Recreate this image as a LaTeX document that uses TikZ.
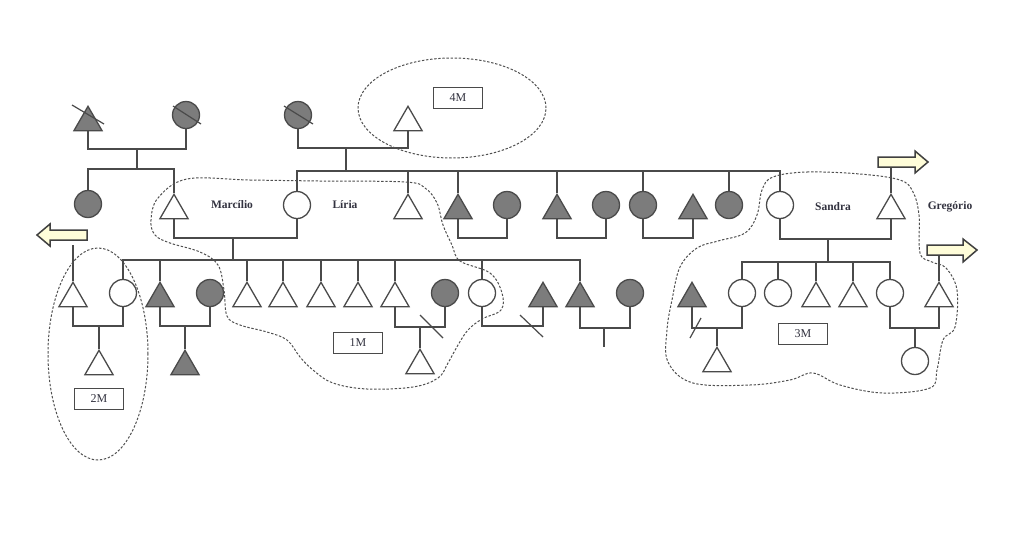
\documentclass[tikz,border=0pt]{standalone}
\usepackage{fontspec}
\setmainfont{Liberation Serif}
\usetikzlibrary{shapes.geometric}
\definecolor{lc}{HTML}{4A4A4A}
\definecolor{af}{HTML}{7C7C7C}
\definecolor{dc}{HTML}{505050}
\definecolor{tc}{HTML}{333340}
\definecolor{ac}{HTML}{404040}
\tikzset{
 lin/.style={draw=lc, line width=1.3pt},
 male/.style={regular polygon, regular polygon sides=3, minimum size=32.5pt, inner sep=0pt, draw=lc, line width=1.3pt, fill=white, anchor=north},
 female/.style={circle, minimum size=27pt, inner sep=0pt, draw=lc, line width=1.3pt, fill=white},
 aff/.style={fill=af},
 grp/.style={draw=dc, dash pattern=on 2.4pt off 1.7pt, line width=1pt},
 boxlab/.style={draw=lc, line width=1.2pt, minimum width=49pt, minimum height=21pt, inner sep=0pt, text=tc, font=\fontsize{12}{13}\selectfont},
 pname/.style={text=tc, inner sep=0pt, font=\bfseries\fontsize{11.5}{13}\selectfont},
 arr/.style={draw=ac, line width=1.5pt, fill=yellow!15, line join=miter},
 gone/.style={draw=lc, line width=1.2pt}
}
\begin{document}
\begin{tikzpicture}[x=1pt,y=-1pt]
\fill[white] (0,0) rectangle (1026,550);
\useasboundingbox (0,0) rectangle (1026,550);

% ---------- Generation I
\node[male,aff] (g1) at (88,105) {};
\node[female,aff] (g2) at (186,115) {};
\node[female,aff] (g3) at (298,115) {};
\node[male] (g4) at (408,105) {};
\draw[gone] (72,105) -- (104,124);
\draw[gone] (173,106) -- (201,124);
\draw[gone] (284,106) -- (313,124);

% ---------- Generation II
\node[female,aff] (b1) at (88,204) {};
\node[male] (marc) at (174,193) {};
\node[female] (liria) at (297,205) {};
\node[male] (b3) at (408,193) {};
\node[male,aff] (b4) at (458,193) {};
\node[female,aff] (b5) at (507,205) {};
\node[male,aff] (b6) at (557,193) {};
\node[female,aff] (b7) at (606,205) {};
\node[female,aff] (b8) at (643,205) {};
\node[male,aff] (b9) at (693,193) {};
\node[female,aff] (b10) at (729,205) {};
\node[female] (sandra) at (780,205) {};
\node[male] (b11) at (891,193) {};

\node[pname] (tM) at (232,205) {Marcílio};
\node[pname] (tL) at (345,205) {Líria};
\node[pname] (tS) at (833,207) {Sandra};
\node[pname] (tG) at (950,207) {Gregório};

% couple g1-g2
\coordinate (m1) at (137,149);
\coordinate (s1) at (137,169);
\draw[lin] (g1.south) |- (m1) -| (g2.south);
\draw[lin] (m1) -- (s1);
\draw[lin] (b1.north) |- (s1) -| (marc.north);
% couple g3-g4
\coordinate (m2) at (346,148);
\coordinate (s2) at (346,171);
\draw[lin] (g3.south) |- (m2) -| (g4.south);
\draw[lin] (m2) -- (s2);
\draw[lin] (liria.north) |- (s2) -| (sandra.north);
\foreach \n in {b3,b4,b6,b8,b10} \draw[lin] (\n.north) -- (\n.north |- s2);

% marriages gen II
\coordinate (m3) at (233,238);
\coordinate (s3) at (233,260);
\draw[lin] (marc.south) |- (m3) -| (liria.south);
\draw[lin] (m3) -- (s3);
\coordinate (m4) at (482,238);
\draw[lin] (b4.south) |- (m4) -| (b5.south);
\coordinate (m5) at (581,238);
\draw[lin] (b6.south) |- (m5) -| (b7.south);
\coordinate (m6) at (668,238);
\draw[lin] (b8.south) |- (m6) -| (b9.south);
\coordinate (m7) at (828,239);
\coordinate (s7) at (828,262);
\draw[lin] (sandra.south) |- (m7) -| (b11.south);
\draw[lin] (m7) -- (s7);

% ---------- arrows
\draw[arr] (878,157) -- (915,157) -- (915,151) -- (928,162) -- (915,173) -- (915,167) -- (878,167) -- cycle;
\coordinate (a1) at (891,168);
\draw[arr] (927,245) -- (963,245) -- (963,239) -- (977,250) -- (963,262) -- (963,255) -- (927,255) -- cycle;
\coordinate (a2) at (939,256);
\draw[arr] (87,230) -- (50,230) -- (50,224) -- (37,235) -- (50,246) -- (50,240) -- (87,240) -- cycle;
\coordinate (a0) at (73,245);
\draw[lin] (b11.north) -- (a1);

% ---------- Generation III (Marcílio & Líria)
\node[male] (c1) at (73,281) {};
\node[female] (c2) at (123,293) {};
\node[male,aff] (c3) at (160,281) {};
\node[female,aff] (c4) at (210,293) {};
\node[male] (c5) at (247,281) {};
\node[male] (c6) at (283,281) {};
\node[male] (c7) at (321,281) {};
\node[male] (c8) at (358,281) {};
\node[male] (c9) at (395,281) {};
\node[female,aff] (c10) at (445,293) {};
\node[female] (c11) at (482,293) {};
\node[male,aff] (c12) at (543,281) {};
\node[male,aff] (c13) at (580,281) {};
\node[female,aff] (c14) at (630,293) {};
\draw[lin] (c2.north) |- (s3) -| (c13.north);
\foreach \n in {c3,c5,c6,c7,c8,c9,c11} \draw[lin] (\n.north) -- (\n.north |- s3);
\draw[lin] (c1.north) -- (a0);

% ---------- Generation III (Sandra)
\node[male,aff] (d0) at (692,281) {};
\node[female] (d1) at (742,293) {};
\node[female] (d2) at (778,293) {};
\node[male] (d3) at (816,281) {};
\node[male] (d4) at (853,281) {};
\node[female] (d5) at (890,293) {};
\node[male] (d6) at (939,281) {};
\draw[lin] (d1.north) |- (s7) -| (d5.north);
\foreach \n in {d2,d3,d4} \draw[lin] (\n.north) -- (\n.north |- s7);
\draw[lin] (d6.north) -- (a2);

% ---------- Generation IV
\node[male] (e1) at (99,349) {};
\node[male,aff] (e2) at (185,349) {};
\node[male] (e3) at (420,348) {};
\node[male] (e4) at (717,346) {};
\node[female] (e5) at (915,361) {};

\coordinate (m8) at (99,326);
\draw[lin] (c1.south) |- (m8) -| (c2.south);
\draw[lin] (m8) -- (e1.north);
\coordinate (m9) at (185,326);
\draw[lin] (c3.south) |- (m9) -| (c4.south);
\draw[lin] (m9) -- (e2.north);
\coordinate (m10) at (420,327);
\draw[lin] (c9.south) |- (m10) -| (c10.south);
\draw[lin] (m10) -- (e3.north);
\draw[gone] (420,315) -- (443,338);
\coordinate (m11) at (512,326);
\draw[lin] (c11.south) |- (m11) -| (c12.south);
\draw[gone] (520,315) -- (543,337);
\coordinate (m12) at (604,328);
\coordinate (x12) at (604,347);
\draw[lin] (c13.south) |- (m12) -| (c14.south);
\draw[lin] (m12) -- (x12);
\coordinate (m13) at (717,328);
\draw[lin] (d0.south) |- (m13) -| (d1.south);
\draw[lin] (m13) -- (e4.north);
\draw[gone] (690,338) -- (701,318);
\coordinate (m14) at (915,328);
\draw[lin] (d5.south) |- (m14) -| (d6.south);
\draw[lin] (m14) -- (e5.north);

% ---------- labels
\node[boxlab] (k4) at (458,98) {4M};
\node[boxlab] (k1) at (358,343) {1M};
\node[boxlab] (k2) at (99,399) {2M};
\node[boxlab] (k3) at (803,334) {3M};

% ---------- groups
\draw[grp] (452,108) ellipse [x radius=94pt, y radius=50pt];
\draw[grp] (98,354) ellipse [x radius=50pt, y radius=106pt];
\draw[grp] plot[smooth cycle, tension=0.6] coordinates {
 (187,179) (250,180) (320,181) (405,182) (425,188) (437,203) (443,225) (452,245)
 (460,261) (490,273) (502,293) (501,310) (482,319) (468,330) (458,345)
 (448,363) (438,378) (413,387) (367,389) (333,383) (313,370) (300,357)
 (287,340) (267,332) (240,325) (227,316) (224,290) (218,265) (200,252)
 (170,243) (155,235) (151,220) (158,198)};
\draw[grp] plot[smooth cycle, tension=0.6] coordinates {
 (773,177) (807,172) (860,174) (900,180) (913,192) (919,215) (920,253)
 (932,262) (946,268) (957,290) (955,327) (943,340) (937,370) (930,388)
 (883,393) (840,385) (813,373) (790,380) (750,385) (693,383) (668,362)
 (667,330) (672,300) (680,267) (697,248) (718,241) (745,233) (757,215) (762,190)};
\end{tikzpicture}
\end{document}
